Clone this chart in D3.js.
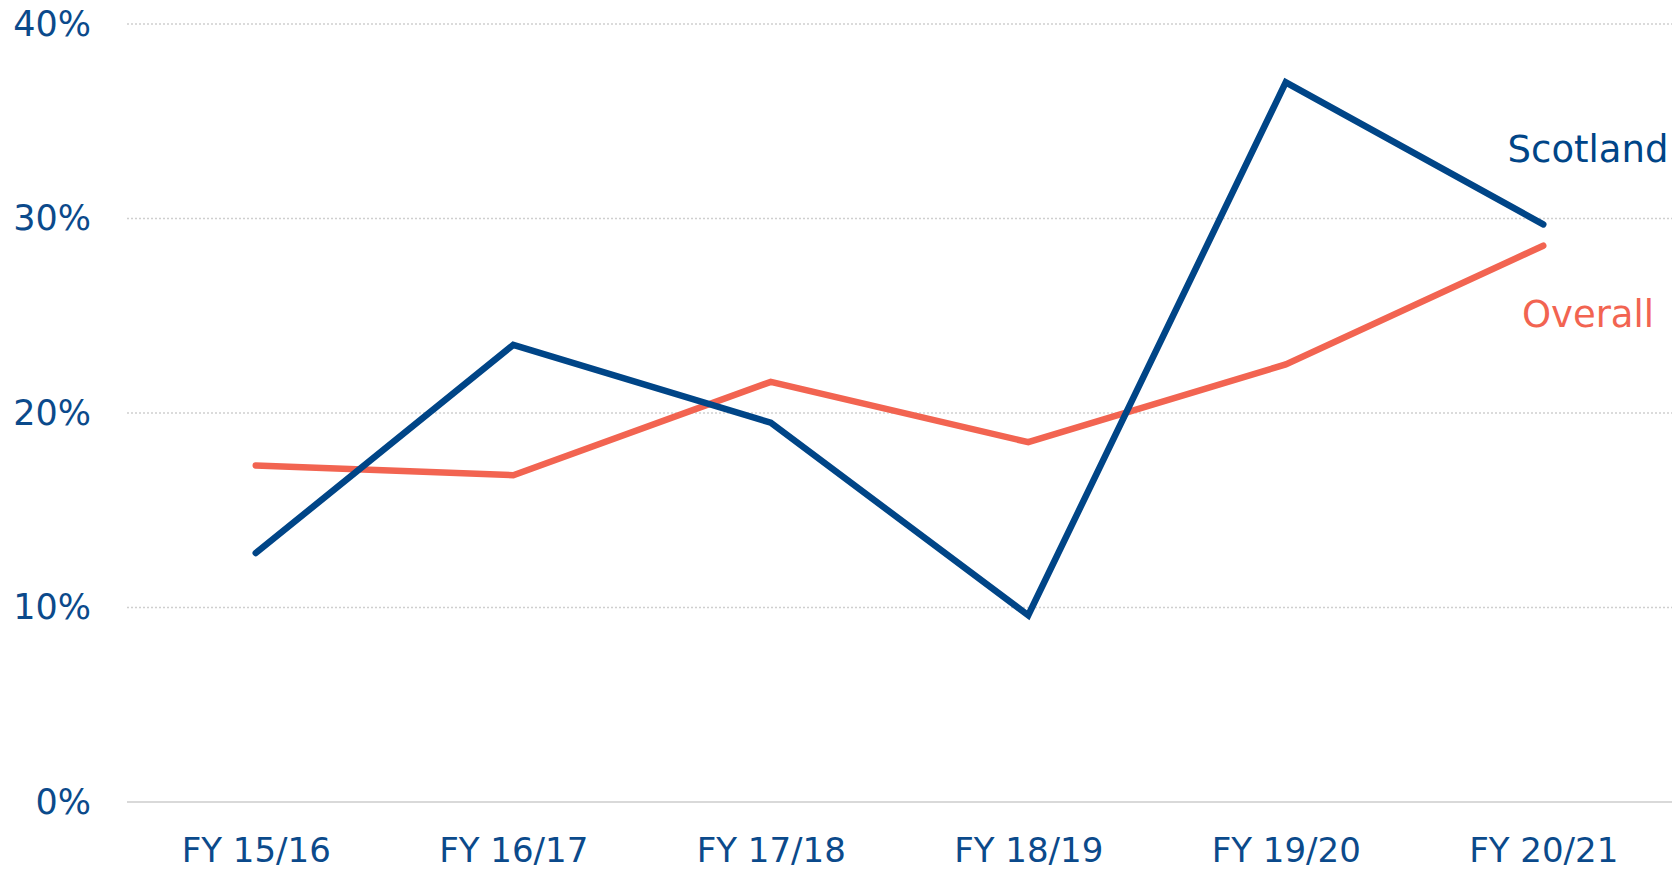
<!DOCTYPE html>
<html>
<head>
<meta charset="utf-8">
<script src="https://cdn.jsdelivr.net/npm/d3@7"></script>
<style>
body { margin:0; background:#fff; }
svg text { font-family: "DejaVu Sans", "Open Sans", sans-serif; fill:#0b4a8b; }
</style>
</head>
<body>
<svg id="chart" width="1675" height="869"></svg>
<script>
// data
var years = [ 'FY 15/16', 'FY 16/17', 'FY 17/18', 'FY 18/19', 'FY 19/20', 'FY 20/21' ];
var scotland = [ 0.128, 0.235, 0.195, 0.096, 0.370, 0.297 ];
var overall  = [ 0.173, 0.168, 0.216, 0.185, 0.225, 0.286 ];
var yTicks = [ 0, 0.1, 0.2, 0.3, 0.4 ];

var svg = d3.select('#chart');

//-------------------------------------------------------------------------------

var x = d3.scalePoint()
    .domain(years)
    .range([127, 1672])
    .padding(0.5);

var y = d3.scaleLinear()
    .domain([0, 0.4])
    .range([802, 24]);

// gridlines - dotted, baseline solid
svg.append('g')
    .selectAll('line')
    .data(yTicks)
    .join('line')
    .attr('x1', 127)
    .attr('x2', 1672)
    .attr('y1', d => y(d))
    .attr('y2', d => y(d))
    .attr('stroke', d => d == 0 ? '#d9d9d9' : '#cfcfcf')
    .attr('stroke-width', d => d == 0 ? 2 : 1.5)
    .attr('stroke-dasharray', d => d == 0 ? null : '2,2');

// y axis labels (no domain line, no ticks)
var yAxis = d3.axisLeft(y)
    .tickValues(yTicks)
    .tickFormat(d3.format('.0%'))
    .tickSize(0)
    .tickPadding(0);

svg.append('g')
    .attr('transform', 'translate(91,0)')
    .call(yAxis)
    .call(g => g.select('.domain').remove())
    .selectAll('text')
    .attr('font-size', 35)
    .attr('fill', '#0b4a8b');

var xAxis = d3.axisBottom(x).tickSize(0).tickPadding(0);

svg.append('g')
    .attr('transform', 'translate(0,862)')
    .call(xAxis)
    .call(g => g.select('.domain').remove())
    .selectAll('text')
    .attr('dy', 0)
    .attr('font-size', 34)
    .attr('fill', '#0b4a8b');

//-------------------------------------------------------------------------------

var line = d3.line()
    .x((d, i) => x(years[i]))
    .y(d => y(d));

var series = [
    { name: 'Overall', vals: overall, colour: '#f26451' },
    { name: 'Scotland', vals: scotland, colour: '#004587' }
];

svg.append('g')
    .selectAll('path')
    .data(series)
    .join('path')
    .attr('d', d => line(d.vals))
    .attr('fill', 'none')
    .attr('stroke', d => d.colour)
    .attr('stroke-width', 6.5)
    .attr('stroke-linecap', 'round')
    .attr('stroke-linejoin', 'miter');

// series labels at the right end
svg.append('text')
    .attr('x', 1588).attr('y', 162)
    .attr('text-anchor', 'middle')
    .attr('font-size', 37)
    .style('fill', '#004587')
    .text('Scotland');

svg.append('text')
    .attr('x', 1588).attr('y', 327)
    .attr('text-anchor', 'middle')
    .attr('font-size', 37)
    .style('fill', '#f26451')
    .text('Overall');
</script>
</body>
</html>
